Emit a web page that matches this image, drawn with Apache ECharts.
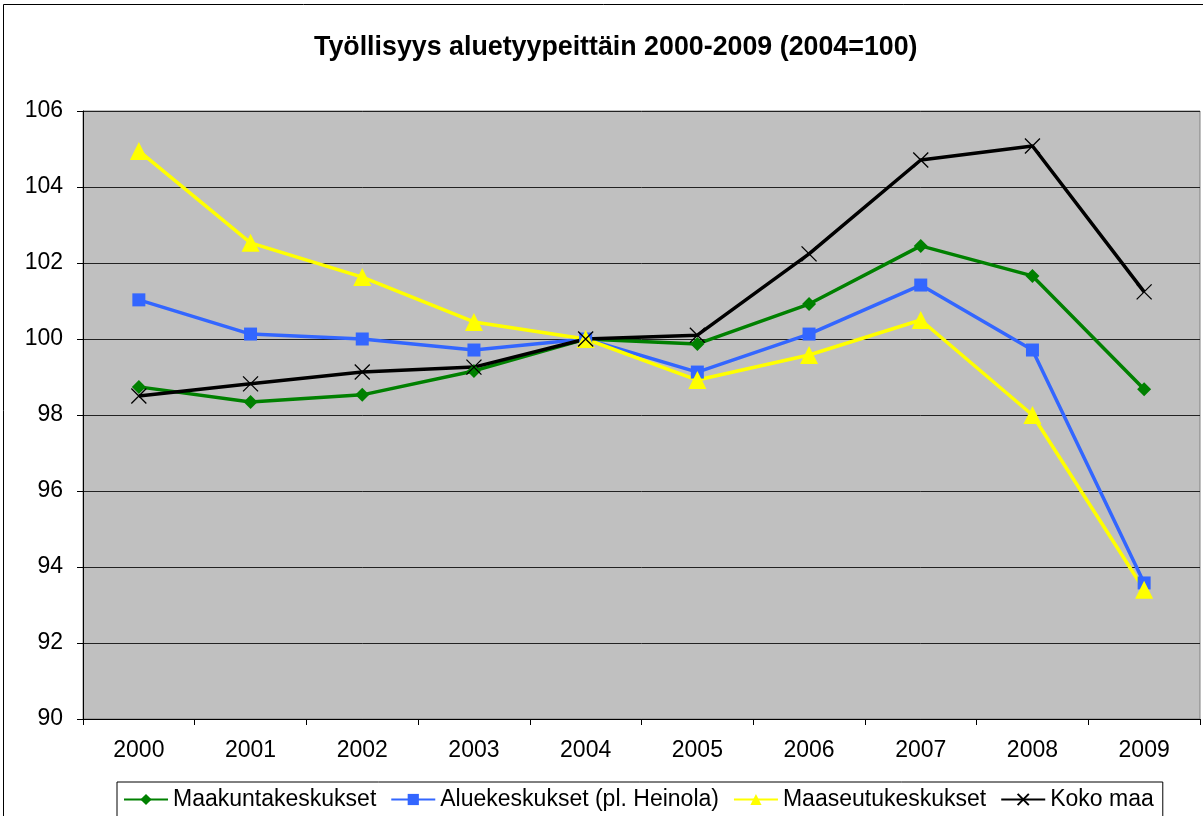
<!DOCTYPE html>
<html>
<head>
<meta charset="utf-8">
<script src="https://cdn.jsdelivr.net/npm/echarts@6/dist/echarts.min.js"></script>
<style>
  html, body { margin: 0; padding: 0; background: #fff; }
  #chart { width: 1203px; height: 816px; }
</style>
</head>
<body>
<div id="chart"></div>
<script>
var years = ["2000", "2001", "2002", "2003", "2004", "2005", "2006", "2007", "2008", "2009"];
var maakunta = [98.74, 98.34, 98.53, 99.16, 100, 99.87, 100.92, 102.45, 101.66, 98.68];
var alue = [101.03, 100.13, 100.0, 99.71, 100, 99.13, 100.13, 101.42, 99.71, 93.58];
var maaseutu = [104.95, 102.53, 101.63, 100.45, 100, 98.92, 99.58, 100.5, 98.0, 93.4];
var kokoMaa = [98.5, 98.82, 99.13, 99.26, 100, 100.1, 102.24, 104.71, 105.08, 101.24];

var font = "Liberation Sans, Arial, sans-serif";
var myChart = echarts.init(document.getElementById("chart"));

myChart.setOption({
  animation: false,
  title: {
    text: "Työllisyys aluetyypeittäin 2000-2009 (2004=100)",
    left: 309,
    top: 29,
    textStyle: { fontFamily: font, fontSize: 26.8, fontWeight: "bold", color: "#000" }
  },
  graphic: [
    {
      type: "rect",
      shape: { x: 3.5, y: 4.5, width: 1220, height: 900 },
      style: { fill: "none", stroke: "#000", lineWidth: 1 },
      silent: true
    }
  ],
  grid: {
    left: 83,
    right: 3,
    top: 111,
    bottom: 97,
    show: true,
    backgroundColor: "#c0c0c0",
    borderColor: "#808080",
    borderWidth: 1
  },
  legend: {
    left: 117,
    top: 782,
    padding: [6, 9, 6, 6],
    itemGap: 14,
    itemWidth: 44,
    itemHeight: 14,
    borderColor: "#000",
    borderWidth: 1,
    textStyle: { fontFamily: font, fontSize: 23, color: "#000" },
    data: ["Maakuntakeskukset", "Aluekeskukset (pl. Heinola)", "Maaseutukeskukset", "Koko maa"]
  },
  xAxis: {
    type: "category",
    data: years,
    boundaryGap: true,
    axisLine: { lineStyle: { color: "#000", width: 1 } },
    axisTick: { show: true, length: 6, lineStyle: { color: "#000" } },
    axisLabel: { fontFamily: font, fontSize: 23, color: "#000", margin: 20 }
  },
  yAxis: {
    type: "value",
    min: 90,
    max: 106,
    interval: 2,
    axisLine: { show: true, lineStyle: { color: "#000", width: 1 } },
    axisTick: { show: true, length: 6, lineStyle: { color: "#000" } },
    axisLabel: { fontFamily: font, fontSize: 23, color: "#000", margin: 20 },
    splitLine: { lineStyle: { color: "#222", width: 1 } }
  },
  series: [
    {
      name: "Maakuntakeskukset",
      type: "line",
      data: maakunta,
      symbol: "diamond",
      symbolSize: 14,
      lineStyle: { color: "#008000", width: 3.5 },
      itemStyle: { color: "#008000" }
    },
    {
      name: "Aluekeskukset (pl. Heinola)",
      type: "line",
      data: alue,
      symbol: "rect",
      symbolSize: 13,
      lineStyle: { color: "#3366ff", width: 3.5 },
      itemStyle: { color: "#3366ff" }
    },
    {
      name: "Maaseutukeskukset",
      type: "line",
      data: maaseutu,
      symbol: "triangle",
      symbolSize: 18,
      lineStyle: { color: "#ffff00", width: 3.5 },
      itemStyle: { color: "#ffff00" }
    },
    {
      name: "Koko maa",
      type: "line",
      data: kokoMaa,
      symbol: "path://M0,0 L10,10 M10,0 L0,10",
      symbolSize: 15,
      lineStyle: { color: "#000", width: 3.5 },
      itemStyle: { color: "#000", borderColor: "#000", borderWidth: 1.3 }
    }
  ]
});
</script>
</body>
</html>
